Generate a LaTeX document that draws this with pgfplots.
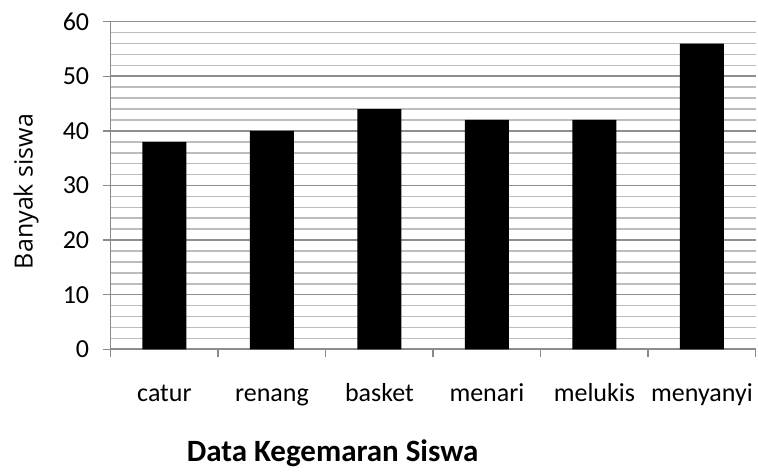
\documentclass[border=0pt]{standalone}
\usepackage{fontspec}
\setmainfont{Carlito}
\newfontfamily\ylabfont{Open Sans}
\usepackage{pgfplots}
\pgfplotsset{compat=1.18}
\definecolor{majgrid}{HTML}{8E8E8E}
\definecolor{mingrid}{HTML}{BDBDBD}
\definecolor{axgray}{HTML}{8A8A8A}
\begin{document}
\begin{tikzpicture}
\useasboundingbox (0pt,0pt) rectangle (758pt,473pt);
\begin{axis}[
  at={(110.7pt,123.7pt)}, anchor=south west,
  scale only axis, width=645pt, height=327.6pt,
  xmin=0, xmax=6, ymin=0, ymax=60,
  axis lines=left,
  axis line style={draw=axgray, line width=1.5pt, -},
  xtick={0,1,2,3,4,5,6},
  xticklabels={catur,renang,basket,menari,melukis,menyanyi,{}},
  ytick={0,10,...,60},
  minor ytick={2,4,6,8,12,14,16,18,22,24,26,28,32,34,36,38,42,44,46,48,52,54,56,58},
  ymajorgrids, yminorgrids,
  major grid style={draw=majgrid, line width=1.6pt},
  minor grid style={draw=mingrid, line width=1.6pt},
  tick align=outside,
  major tick length=8pt, minor tick length=0pt,
  tick style={draw=axgray, line width=1.5pt},
  /pgf/number format/assume math mode=true,
  tick label style={font=\fontsize{26}{30}\selectfont, text=black},
  x tick label style={anchor=base, xshift=53.75pt, yshift=-44pt},
  y tick label style={anchor=east, xshift=-10pt},
  ylabel={\ylabfont Banyak siswa},
  ylabel style={font=\fontsize{25}{30}\selectfont, at={(axis description cs:-0.131,0.4817)}, anchor=center, rotate=0},
  xlabel={\bfseries Data Kegemaran Siswa},
  xlabel style={font=\fontsize{31}{36}\selectfont, at={(axis description cs:0.344,-0.344)}, anchor=base},
  clip=false,
]
\addplot[ybar, bar width=44pt, bar shift=0pt, fill=black, draw=none]
  coordinates {(0.5,38) (1.5,40) (2.5,44) (3.5,42) (4.5,42) (5.5,56)};
\end{axis}
\end{tikzpicture}
\end{document}
